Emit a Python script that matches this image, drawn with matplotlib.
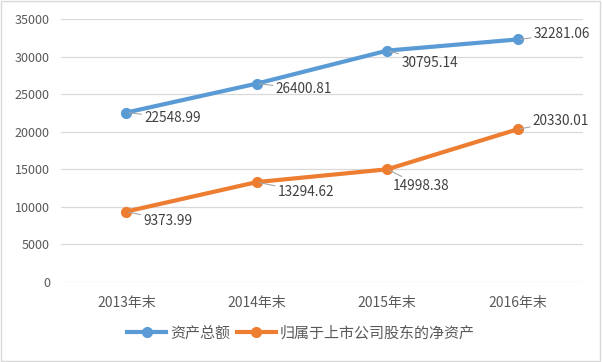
import matplotlib
matplotlib.use("Agg")
import matplotlib.pyplot as plt
from matplotlib.patches import Rectangle

plt.rcParams['font.family'] = ['Noto Sans CJK SC', 'DejaVu Sans']

# data
years = ["2013年末", "2014年末", "2015年末", "2016年末"]
total_assets = [22548.99, 26400.81, 30795.14, 32281.06]
net_assets = [9373.99, 13294.62, 14998.38, 20330.01]
names = ["资产总额", "归属于上市公司股东的净资产"]

# label offsets in pixels (dx, dy)
off_total = [(18, -5), (19, -5), (14, -12), (16, 5)]
off_net = [(17, -9), (21, -10), (6, -17), (15, 8)]

blue = "#5B9BD5"
orange = "#ED7D31"
txt = "#595959"

fig = plt.figure(figsize=(6.02, 3.62), dpi=100)
ax = fig.add_axes([61/602, 1-282/362, 522/602, 263/362])

x = range(len(years))
ax.plot(x, total_assets, color=blue, lw=3, marker='o', ms=7, label=names[0])
ax.plot(x, net_assets, color=orange, lw=3, marker='o', ms=7, label=names[1])

for vals, offs in ((total_assets, off_total), (net_assets, off_net)):
    for i, v in enumerate(vals):
        ax.annotate(f"{v:.2f}", xy=(i, v), xytext=offs[i], textcoords='offset pixels',
                    ha='left', va='center', fontsize=9.8, color="#404040",
                    arrowprops=dict(arrowstyle='-', color='#a6a6a6', lw=0.8,
                                    shrinkA=0, shrinkB=2))

ax.set_xlim(-0.5, 3.5)
ax.set_ylim(0, 35000)
ax.set_yticks(range(0, 35001, 5000))
ax.set_xticks(list(x))
ax.set_xticklabels(years)
ax.tick_params(length=0, colors=txt, labelsize=9)
ax.tick_params(axis='x', pad=10, labelsize=10)
ax.tick_params(axis='y', pad=8)
ax.grid(axis='y', color='#D9D9D9', lw=0.9)
ax.set_axisbelow(True)
for s in ax.spines.values():
    s.set_visible(False)

leg = fig.legend(loc='center', bbox_to_anchor=(0.5, 1-333/362), ncol=2, frameon=False,
                 fontsize=10.8, handlelength=2.6, columnspacing=0.4, handletextpad=0.3)
for t in leg.get_texts():
    t.set_color(txt)

fig.patches.append(Rectangle((0.002, 0.003), 0.995, 0.994, transform=fig.transFigure,
                             fill=False, edgecolor='#D9D9D9', lw=1))

fig.savefig("out.png", dpi=100)
